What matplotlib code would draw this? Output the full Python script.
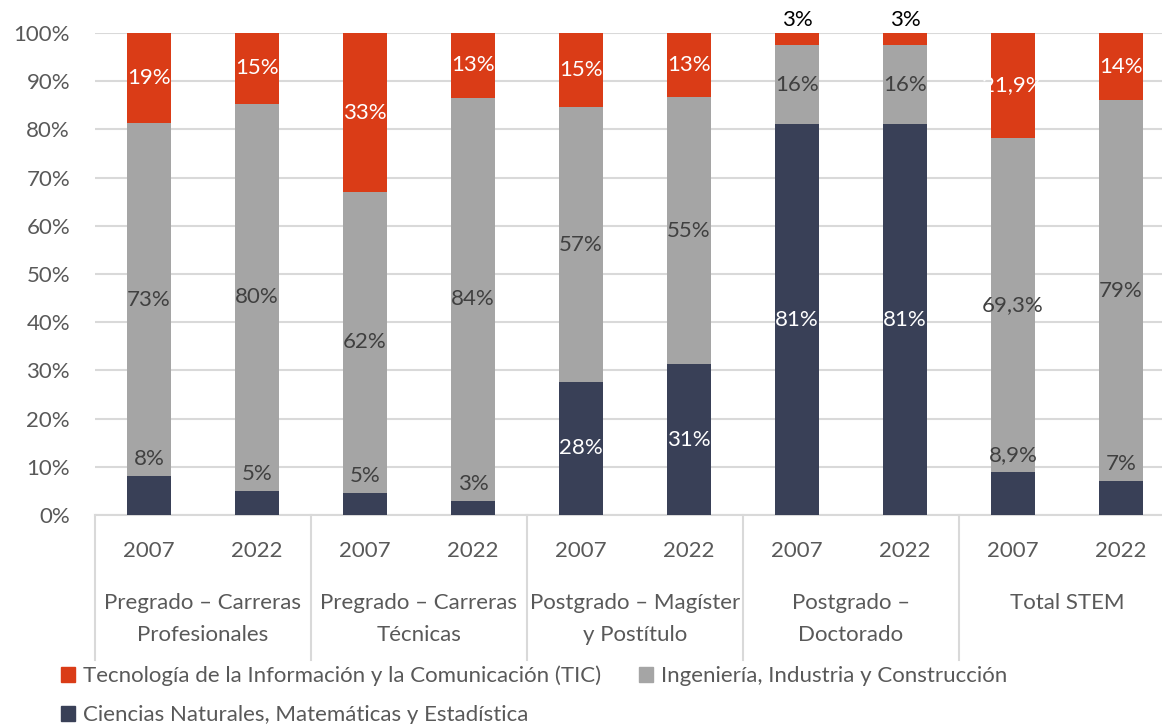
import numpy as np
import matplotlib.pyplot as plt
from matplotlib.patches import Patch

plt.rcParams['font.family'] = ['Lato', 'DejaVu Sans']

groups = [["Pregrado – Carreras", "Profesionales"],
          ["Pregrado – Carreras", "Técnicas"],
          ["Postgrado – Magíster", "y Postítulo"],
          ["Postgrado –", "Doctorado"],
          ["Total STEM"]]
years = ["2007", "2022"] * 5

ciencias = [8.1, 5.0, 4.6, 2.9, 27.6, 31.3, 81.1, 81.1, 8.9, 7.0]
ingenieria = [73.2, 80.3, 62.4, 83.7, 57.0, 55.4, 16.4, 16.4, 69.3, 79.0]
tic = [18.7, 14.7, 33.0, 13.4, 15.4, 13.3, 2.5, 2.5, 21.9, 14.0]

lbl_ciencias = ["8%", "5%", "5%", "3%", "28%", "31%", "81%", "81%", "8,9%", "7%"]
lbl_ingenieria = ["73%", "80%", "62%", "84%", "57%", "55%", "16%", "16%", "69,3%", "79%"]
lbl_tic = ["19%", "15%", "33%", "13%", "15%", "13%", "3%", "3%", "21,9%", "14%"]

c_tic = "#DA3C17"
c_ing = "#A5A5A5"
c_cie = "#394057"
txt = "#595959"

fig = plt.figure(figsize=(11.62, 7.24), dpi=100)
ax = fig.add_axes([95 / 1162, 209 / 724, 1080 / 1162, 482 / 724])

x = np.arange(len(years))
w = 0.4
ciencias = np.array(ciencias)
ingenieria = np.array(ingenieria)
tic = np.array(tic)

ax.bar(x, ciencias, w, color=c_cie, zorder=3)
ax.bar(x, ingenieria, w, bottom=ciencias, color=c_ing, zorder=3)
ax.bar(x, tic, w, bottom=ciencias + ingenieria, color=c_tic, zorder=3)

fs = 16
for i in range(len(x)):
    # bottom segment: small ones get the label just above the bar
    if ciencias[i] > 15:
        ax.text(x[i], ciencias[i] / 2, lbl_ciencias[i], ha="center", va="center",
                color="white", fontsize=fs, zorder=4)
    else:
        ax.text(x[i], ciencias[i] + 3.5, lbl_ciencias[i], ha="center", va="center",
                color="#404040", fontsize=fs, zorder=4)
    ax.text(x[i], ciencias[i] + ingenieria[i] / 2, lbl_ingenieria[i], ha="center",
            va="center", color="#404040", fontsize=fs, zorder=4)
    top = ciencias[i] + ingenieria[i]
    if tic[i] > 5:
        ax.text(x[i], top + tic[i] / 2, lbl_tic[i], ha="center", va="center",
                color="white", fontsize=fs, zorder=4)
    else:
        ax.text(x[i], 102.6, lbl_tic[i], ha="center", va="center",
                color="black", fontsize=fs, zorder=4, clip_on=False)

ax.set_xlim(-0.5, len(x) - 0.5)
ax.set_ylim(0, 100)
ax.set_yticks(np.arange(0, 101, 10))
ax.set_yticklabels([f"{v}%" for v in range(0, 101, 10)])
ax.tick_params(axis="y", length=0, pad=18, labelsize=fs, labelcolor=txt)
ax.set_xticks(x)
ax.set_xticklabels(years)
ax.tick_params(axis="x", length=0, pad=19, labelsize=fs, labelcolor=txt)
ax.grid(axis="y", color="#D9D9D9", linewidth=1.5, zorder=0)
for s in ["top", "right", "left"]:
    ax.spines[s].set_visible(False)
ax.spines["bottom"].set_color("#D9D9D9")
ax.spines["bottom"].set_linewidth(1.5)

# group labels and separators under the year ticks
trans = ax.get_xaxis_transform()
for g, lines in enumerate(groups):
    cx = 2 * g + 0.5
    for k, line in enumerate(lines):
        ax.text(cx, -0.183 - k * 0.066, line, transform=trans, ha="center",
                va="center", fontsize=fs, color=txt)
for g in range(len(groups) + 1):
    ax.plot([2 * g - 0.5] * 2, [0, -0.30], transform=trans, color="#D9D9D9",
            linewidth=1.5, clip_on=False)

handles = [Patch(color=c_tic), Patch(color=c_cie), Patch(color=c_ing)]
labels = ["Tecnología de la Información y la Comunicación (TIC)",
          "Ciencias Naturales, Matemáticas y Estadística",
          "Ingeniería, Industria y Construcción"]
fig.legend(handles, labels, ncol=2, loc="upper left",
           bbox_to_anchor=(52 / 1162, 1 - 657 / 724), frameon=False,
           fontsize=fs, labelcolor=txt, handlelength=0.65, handleheight=0.65,
           handletextpad=0.35, columnspacing=1.7, labelspacing=0.85,
           borderaxespad=0)

fig.savefig("out.png", dpi=100)
